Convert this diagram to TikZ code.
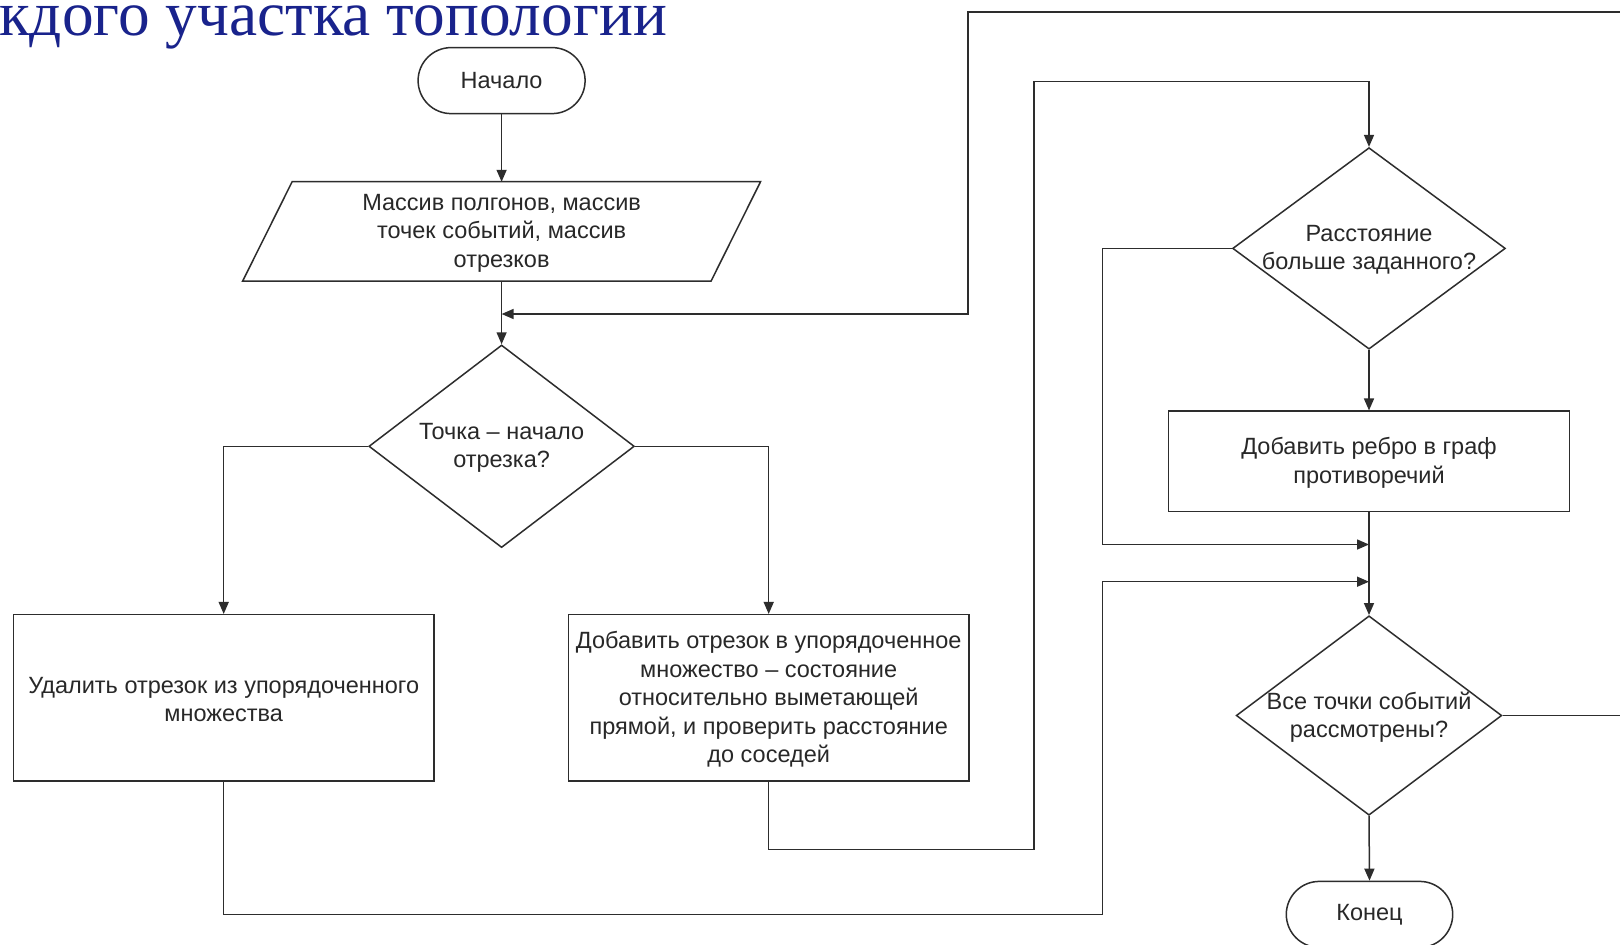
\documentclass[tikz,border=0pt]{standalone}
\usepackage{fontspec}
\setmainfont{Liberation Sans}
\newfontfamily\titlefont{Liberation Serif}
\usetikzlibrary{shapes.geometric,arrows.meta}
\definecolor{linec}{RGB}{45,45,45}
\definecolor{textc}{RGB}{40,40,40}
\definecolor{titlec}{RGB}{25,35,140}
\begin{document}
\begin{tikzpicture}[x=1pt,y=-1pt,
  every node/.style={text=textc,font=\fontsize{23.5}{28.4}\selectfont},
  conn/.style={draw=linec,line width=1.5pt},
  arr/.style={conn,-{Triangle[length=12pt,width=10pt]}},
  term/.style={draw=linec,line width=1.5pt,rectangle,rounded corners=33pt,minimum width=167pt,minimum height=66pt,inner sep=0pt},
  procbox/.style={draw=linec,line width=1.5pt,rectangle,inner sep=0pt,align=center},
  decis/.style={draw=linec,line width=1.5pt,diamond,inner sep=0pt},
  lbl/.style={align=center,inner sep=0pt}]
\useasboundingbox (0,0) rectangle (1620,945);
\clip (0,0) rectangle (1620,945);
\fill[white] (0,0) rectangle (1620,945);
% title
\node[anchor=base west,inner sep=0pt,text=titlec,font=\titlefont\fontsize{63.3}{70}\selectfont] (title) at (-1,35.5) {кдого участка топологии};
% nodes
\node[term] (start) at (501.6,80.6) {Начало};
\node[minimum width=468pt,minimum height=99.2pt,inner sep=0pt,align=center] (in) at (501.6,233) {Массив полгонов, массив\\точек событий, массив\\отрезков};
\draw[conn] ([xshift=24.8pt,yshift=1.6pt]in.north west) -- ([xshift=24.8pt,yshift=1.6pt]in.north east) -- ([xshift=-24.8pt,yshift=1.6pt]in.south east) -- ([xshift=-24.8pt,yshift=1.6pt]in.south west) -- cycle;
\coordinate (inN) at (501.6,181.8);
\coordinate (inS) at (501.6,281);
\node[decis,minimum width=265.5pt,minimum height=202.6pt] (d1) at (501.6,446.3) {};
\node[lbl] (t1) at ([yshift=-1.5pt]d1.center) {Точка -- начало\\отрезка?};
\node[procbox,minimum width=420.6pt,minimum height=166.3pt] (del) at (223.7,697.85) {};
\node[lbl] (tdel) at ([yshift=-1.5pt]del.center) {Удалить отрезок из упорядоченного\\множества};
\node[procbox,minimum width=400.8pt,minimum height=166.3pt] (add) at (768.7,697.85) {};
\node[lbl] (tadd) at ([yshift=-1.5pt]add.center) {Добавить отрезок в упорядоченное\\множество -- состояние\\относительно выметающей\\прямой, и проверить расстояние\\до соседей};
\node[decis,minimum width=272.8pt,minimum height=201.5pt] (d2) at (1369,248.4) {};
\node[lbl] (t2) at ([yshift=-1.5pt]d2.center) {Расстояние\\больше заданного?};
\node[procbox,minimum width=400.8pt,minimum height=100.2pt] (edge) at (1369,461.3) {};
\node[lbl] (tedge) at ([yshift=-1.5pt]edge.center) {Добавить ребро в граф\\противоречий};
\node[decis,minimum width=265.6pt,minimum height=199.4pt] (d3) at (1369,715.5) {};
\node[lbl] (t3) at ([yshift=-1.5pt]d3.center) {Все точки событий\\рассмотрены?};
\node[term,minimum width=166.4pt] (end) at (1369.5,914.4) {Конец};
% coordinates
\coordinate (topexit) at (1620,12);
\coordinate (rightexit) at (1620,715.5);
\coordinate (j1) at (501.6,314);
\coordinate (j2) at (1369,544.5);
\coordinate (j3) at (1369,581.7);
% connectors
\draw[arr] (start) -- (inN);
\draw[arr] (inS) -- (d1.north);
\draw[arr] (topexit) -| (968,314) -- (j1);
\draw[arr] (d1.west) -| (del.north);
\draw[arr] (d1.east) -| (add.north);
\draw[arr] (del.south) |- (1102.4,914.4) |- (j3);
\draw[arr] (add.south) |- (1034.2,849.3) |- (1369,81.6) -- (d2.north);
\draw[arr] (d2.west) -| (1102.4,544.5) -- (j2);
\draw[arr] (d2.south) -- (edge.north);
\draw[arr] (edge.south) -- (d3.north);
\draw[arr] (d3.south) -- (end.north);
\draw[conn] (d3.east) -- (rightexit);
\end{tikzpicture}
\end{document}
